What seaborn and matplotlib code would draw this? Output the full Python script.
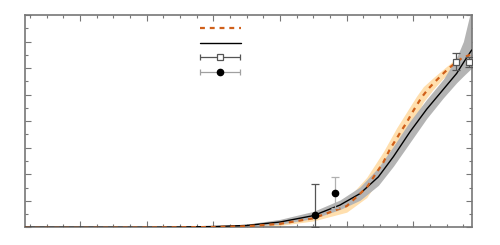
import numpy as np
import pandas as pd
import seaborn as sns
import matplotlib as mpl
import matplotlib.pyplot as plt
from matplotlib.legend_handler import HandlerErrorbar

# black curve with grey band
x_fit = [0.175, 1.0, 2.0, 2.5, 3.0, 3.5, 4.0, 4.5, 4.9, 5.2, 5.475, 5.7, 5.95, 6.2, 6.45, 6.65, 6.75, 6.875]
y_fit = [0.0, 0.0, 0.0, 0.01, 0.03, 0.07, 0.2, 0.44, 0.84, 1.27, 1.9, 2.66, 3.6, 4.45, 5.2, 5.8, 6.2, 6.68]
lo_fit = [0.0, 0.0, 0.0, 0.0, 0.02, 0.04, 0.12, 0.33, 0.67, 1.02, 1.58, 2.3, 3.2, 4.1, 4.88, 5.45, 5.7, 6.0]
hi_fit = [0.0, 0.0, 0.01, 0.02, 0.05, 0.12, 0.3, 0.6, 1.03, 1.52, 2.25, 3.05, 4.0, 4.82, 5.58, 6.4, 7.0, 8.3]

# orange dashed curve with light orange band
x_mod = [0.175, 1.0, 2.0, 2.5, 3.0, 3.5, 4.0, 4.5, 5.0, 5.3, 5.55, 5.65, 5.75, 5.825, 5.9, 5.975, 6.05,
         6.125, 6.225, 6.3, 6.425, 6.525, 6.625, 6.725, 6.85]
y_mod = [-0.02, -0.02, -0.01, 0.0, 0.01, 0.04, 0.13, 0.34, 0.8, 1.5, 2.45, 2.95, 3.35, 3.66, 3.95, 4.29, 4.6,
         4.9, 5.22, 5.42, 5.74, 5.98, 6.18, 6.37, 6.5]
x_band = [3.0, 3.5, 4.0, 4.5, 5.0, 5.3, 5.55, 5.75, 5.9, 6.05, 6.15, 6.3, 6.45, 6.65]
lo_band = [0.0, 0.02, 0.07, 0.24, 0.57, 1.12, 2.05, 2.95, 3.55, 4.22, 4.72, 5.2, 5.62, 6.07]
hi_band = [0.03, 0.08, 0.2, 0.46, 1.05, 1.88, 2.85, 3.75, 4.35, 4.95, 5.3, 5.64, 5.96, 6.38]

# measurements
x_sq = [6.635, 6.835]
y_sq = [6.24, 6.24]
err_sq_lo = [0.32, 0.19]
err_sq_hi = [0.31, 0.19]

x_dot = [4.525, 4.825]
y_dot = [0.45, 1.30]
err_dot_lo = [0.45, 0.58]
err_dot_hi = [1.17, 0.61]
dot_err_colors = ['#555555', '#b0b0b0']

sns.set_style("ticks")
fig = plt.figure(figsize=(5, 2.45), dpi=100)
ax = fig.add_axes([0.05, 0.0722, 0.8934, 0.8666])

ax.fill_between(x_band, lo_band, hi_band, color='#ffdfae', lw=0, zorder=1)
ax.fill_between(x_fit, lo_fit, hi_fit, color='#b4b4b4', lw=0, zorder=2)

df_fit = pd.DataFrame({'x': x_fit, 'y': y_fit})
df_mod = pd.DataFrame({'x': x_mod, 'y': y_mod})
sns.lineplot(data=df_fit, x='x', y='y', ax=ax, color='black', lw=1.0, zorder=3, label='fit')
sns.lineplot(data=df_mod, x='x', y='y', ax=ax, color='#d0601a', lw=1.6, zorder=4, label='model')
ax.lines[-1].set_dashes((2.2, 2.2))

ax.errorbar(x_sq, y_sq, yerr=[err_sq_lo, err_sq_hi], fmt='s', ms=5, mfc='white', mec='#555555',
            mew=0.9, ecolor='#555555', elinewidth=0.9, capsize=3, capthick=0.9, zorder=5)
for i in range(len(x_dot)):
    ax.errorbar([x_dot[i]], [y_dot[i]], yerr=[[err_dot_lo[i]], [err_dot_hi[i]]], fmt='o', ms=4.5,
                color='black', ecolor=dot_err_colors[i], elinewidth=0.9, capsize=3, capthick=0.9, zorder=5)

# horizontal error-bar proxies for the legend (placed outside the view)
leg_sq = ax.errorbar([-5], [-5], xerr=[1], fmt='s', ms=5, mfc='white', mec='#555555', mew=0.9,
                     ecolor='#555555', elinewidth=0.9, capsize=2.5, capthick=0.9)
leg_dot = ax.errorbar([-5], [-5], xerr=[1], fmt='o', ms=4.5, color='black', ecolor='#a0a0a0',
                      elinewidth=0.9, capsize=2.5, capthick=0.9)

ax.set_xlim(0.175, 6.875)
ax.set_ylim(0, 8)
ax.set_xlabel("")
ax.set_ylabel("")
ax.xaxis.set_major_locator(mpl.ticker.MultipleLocator(1))
ax.xaxis.set_minor_locator(mpl.ticker.MultipleLocator(0.25))
ax.yaxis.set_major_locator(mpl.ticker.MultipleLocator(1))
ax.yaxis.set_minor_locator(mpl.ticker.MultipleLocator(0.5))
ax.tick_params(which='both', direction='in', top=True, right=True, labelleft=False, labelbottom=False,
               color='#777777', width=0.8)
ax.tick_params(which='major', length=4)
ax.tick_params(which='minor', length=2)
for s in ax.spines.values():
    s.set_color('#777777')
    s.set_linewidth(1.2)

# legend without text
handles = [ax.lines[1], ax.lines[0], leg_sq, leg_dot]
ax.legend(handles, [''] * 4, loc='upper left', bbox_to_anchor=(0.388, 0.926), bbox_transform=fig.transFigure,
          frameon=False, fontsize=8, handlelength=3.7, handleheight=1.1, labelspacing=0.3, borderpad=0,
          handletextpad=0.2, numpoints=1, handler_map={type(leg_sq): HandlerErrorbar(xerr_size=1.8)})

plt.savefig('out.png', dpi=100)
